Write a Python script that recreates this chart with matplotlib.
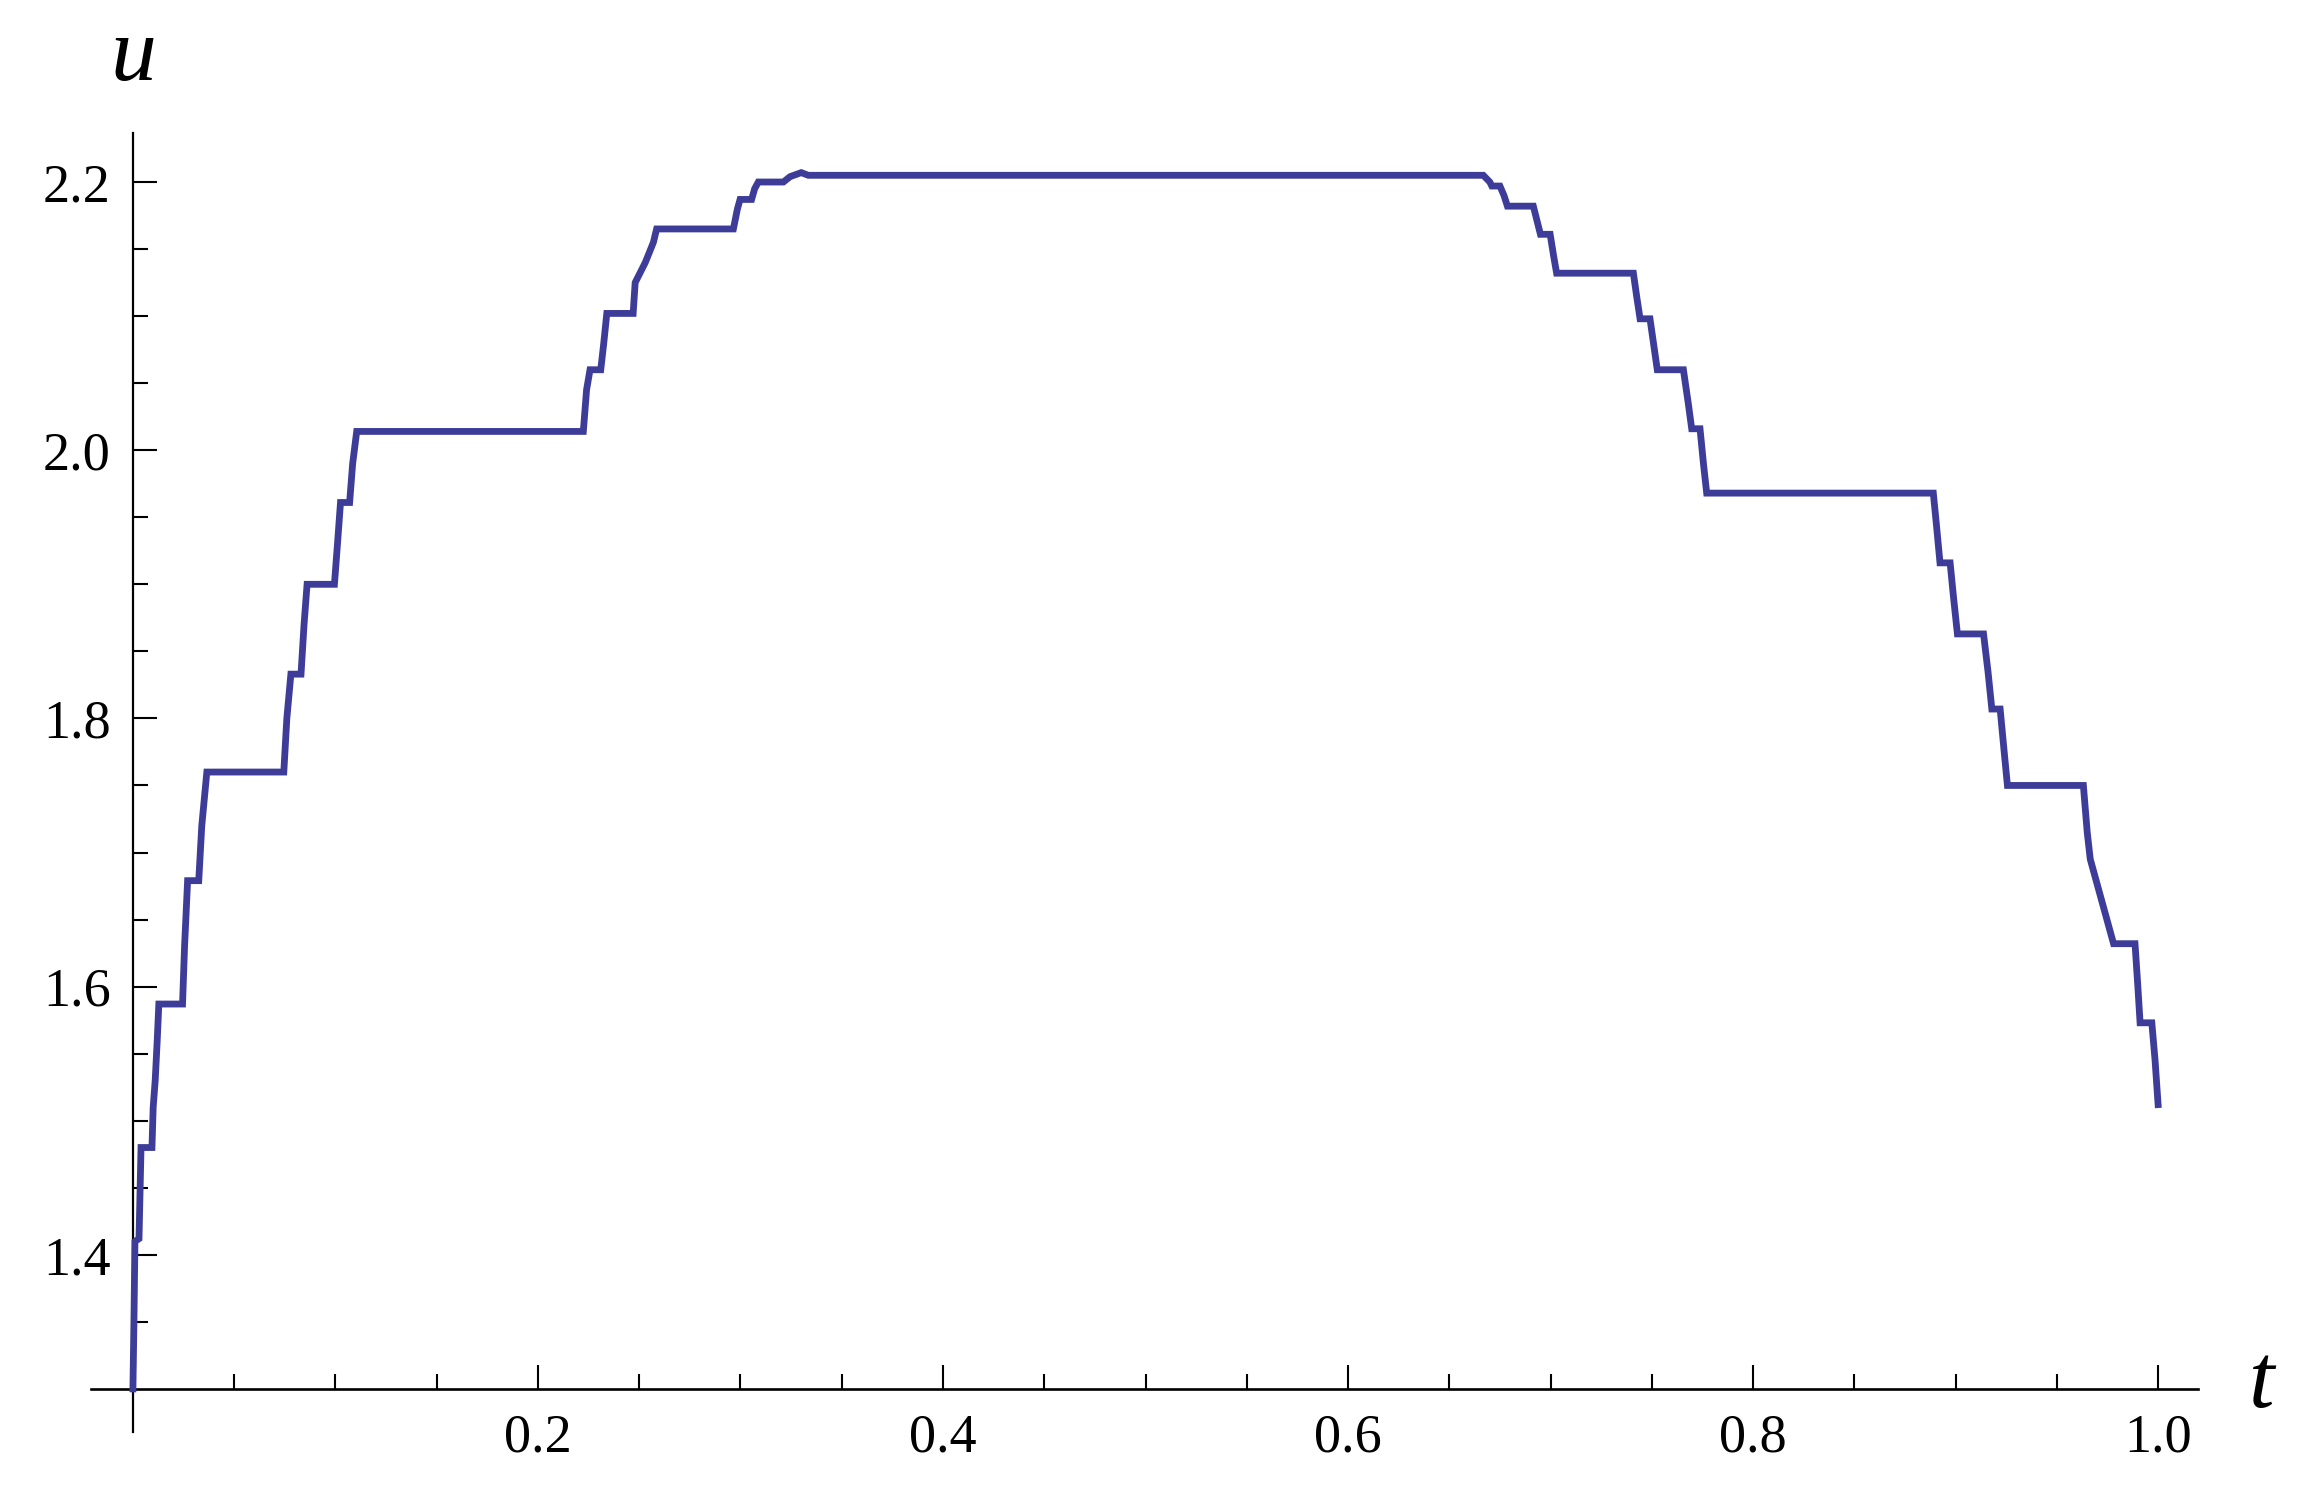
import numpy as np
import matplotlib
matplotlib.use("Agg")
import matplotlib.pyplot as plt
from matplotlib.ticker import FixedLocator

plt.rcParams['font.family'] = ['Liberation Serif', 'DejaVu Serif']

# curve u(t), vertices
t_vals = [0.000, 0.0005, 0.0010, 0.0030, 0.0040, 0.0094, 0.0100, 0.0110, 0.0120, 0.0128,
          0.0245, 0.0255, 0.0270, 0.0325, 0.0340, 0.0365, 0.0745, 0.0760, 0.0780, 0.0830,
          0.0845, 0.0860, 0.0995, 0.1010, 0.1025, 0.1070, 0.1085, 0.1105, 0.2224, 0.2240,
          0.2257, 0.2310, 0.2325, 0.2340, 0.2470, 0.2480, 0.2530, 0.2570, 0.2586, 0.2965,
          0.2985, 0.2998, 0.3055, 0.3070, 0.3088, 0.3212, 0.3245, 0.3300, 0.3335, 0.6668,
          0.6700, 0.6710, 0.6750, 0.6770, 0.6787, 0.6915, 0.6935, 0.6950, 0.6998, 0.7015,
          0.7030, 0.7409, 0.7425, 0.7442, 0.7491, 0.7510, 0.7527, 0.7656, 0.7680, 0.7697,
          0.7738, 0.7755, 0.7771, 0.8890, 0.8905, 0.8923, 0.8973, 0.8990, 0.9009, 0.9138,
          0.9160, 0.9179, 0.9220, 0.9240, 0.9256, 0.9631, 0.9650, 0.9665, 0.9780, 0.9886,
          0.9900, 0.9911, 0.9969, 0.9985, 1.0000]
u_vals = [1.300, 1.350, 1.410, 1.412, 1.480, 1.480, 1.510, 1.530, 1.560, 1.587,
          1.587, 1.630, 1.679, 1.679, 1.720, 1.760, 1.760, 1.800, 1.833, 1.833,
          1.870, 1.900, 1.900, 1.930, 1.961, 1.961, 1.990, 2.014, 2.014, 2.045,
          2.060, 2.060, 2.080, 2.102, 2.102, 2.125, 2.140, 2.155, 2.165, 2.165,
          2.180, 2.187, 2.187, 2.195, 2.200, 2.200, 2.204, 2.207, 2.205, 2.205,
          2.200, 2.197, 2.197, 2.190, 2.182, 2.182, 2.170, 2.161, 2.161, 2.145,
          2.132, 2.132, 2.115, 2.098, 2.098, 2.078, 2.060, 2.060, 2.035, 2.016,
          2.016, 1.990, 1.968, 1.968, 1.945, 1.916, 1.916, 1.890, 1.863, 1.863,
          1.835, 1.807, 1.807, 1.775, 1.750, 1.750, 1.715, 1.695, 1.632, 1.632,
          1.600, 1.573, 1.573, 1.545, 1.512]

x_major = [0.2, 0.4, 0.6, 0.8, 1.0]
x_labels = ["0.2", "0.4", "0.6", "0.8", "1.0"]
y_major = [1.4, 1.6, 1.8, 2.0, 2.2]
y_labels = ["1.4", "1.6", "1.8", "2.0", "2.2"]

fig = plt.figure(figsize=(23.05, 15.07), dpi=100)
ax = fig.add_axes([0.03948, 0.0499, 0.9141, 0.8618])

ax.plot(t_vals, u_vals, color='#3d3d99', lw=4.9, zorder=3, solid_joinstyle='miter')

ax.set_xlim(-0.0207, 1.0197)
ax.set_ylim(1.268, 2.2365)

# axes cross at (0, 1.3)
ax.spines['left'].set_position(('data', 0))
ax.spines['bottom'].set_position(('data', 1.3))
ax.spines['right'].set_visible(False)
ax.spines['top'].set_visible(False)
ax.spines['left'].set_linewidth(1.6)
ax.spines['bottom'].set_linewidth(1.9)

x_minor = [round(0.05 * i, 2) for i in range(1, 20) if i % 4 != 0]
y_minor = [round(1.3 + 0.05 * i, 2) for i in range(1, 19) if (i - 2) % 4 != 0]
ax.xaxis.set_major_locator(FixedLocator(x_major))
ax.xaxis.set_minor_locator(FixedLocator(x_minor))
ax.yaxis.set_major_locator(FixedLocator(y_major))
ax.yaxis.set_minor_locator(FixedLocator(y_minor))
ax.set_xticklabels(x_labels)
ax.set_yticklabels(y_labels)

ax.tick_params(which='major', direction='in', length=17, width=1.5, labelsize=39)
ax.tick_params(which='minor', direction='in', length=11, width=1.5)
ax.tick_params(axis='x', which='major', pad=17)
ax.tick_params(axis='y', which='major', pad=16)

fig.text(133 / 2305, 1 - 58 / 1507, "u", fontsize=66, style='italic',
         ha='center', va='center')
fig.text(2262 / 2305, 1 - 1385 / 1507, "t", fontsize=66, style='italic',
         ha='center', va='center')

fig.savefig("out.png", dpi=100, facecolor='white')
